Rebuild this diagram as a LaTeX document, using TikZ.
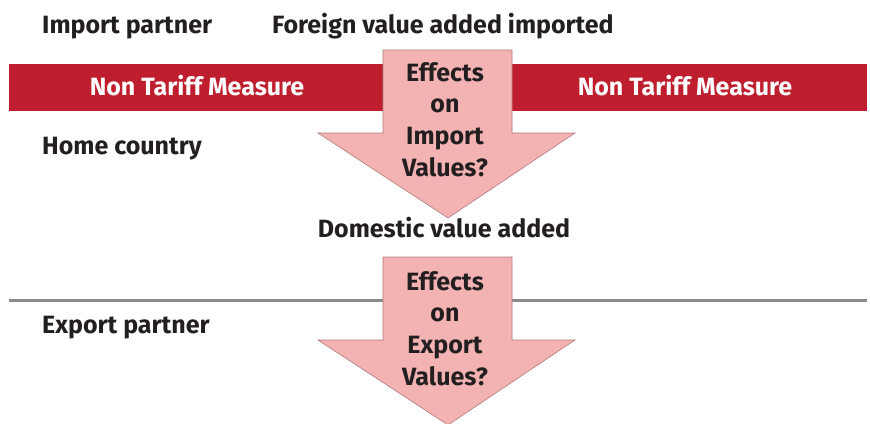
\documentclass[tikz,border=0pt]{standalone}
\usepackage{fontspec}
\setmainfont{Fira Sans}
\usepackage{tikz}
\usetikzlibrary{positioning}
\definecolor{barred}{HTML}{BE1E2D}
\definecolor{arrowpink}{HTML}{F4B3B3}
\definecolor{arrowedge}{HTML}{B07A7A}
\definecolor{inkdark}{HTML}{231F20}
\definecolor{rulegray}{HTML}{8C8C8C}
\tikzset{
    partylabel/.style = {anchor=base west, inner sep=0, text=inkdark, font=\bfseries\fontsize{25}{30}\selectfont},
    flowlabel/.style = {anchor=base, inner sep=0, text=inkdark, font=\bfseries\fontsize{25}{30}\selectfont},
    ntmlabel/.style = {anchor=base, inner sep=0, text=white, font=\bfseries\fontsize{25}{30}\selectfont},
    effecttext/.style = {anchor=north, inner sep=0, align=center, text=inkdark, font=\bfseries\fontsize{25}{31.8}\selectfont},
    effectarrow/.style = {fill=arrowpink, draw=arrowedge, line width=0.6pt},
    ntmbar/.style = {fill=barred, draw=none},
    partyrule/.style = {draw=rulegray, line width=3pt}
}

\begin{document}
\begin{tikzpicture}[x=1pt,y=-1pt]
\useasboundingbox (0,0) rectangle (870,423);

% bars and rules
\fill[ntmbar] (9,64) rectangle (867,111);
\draw[partyrule] (9,300) -- (867,300);

% arrows
\draw[effectarrow] (383,50) -- (512,50) -- (512,133) -- (575,133) -- (448,218)
    -- (318,133) -- (383,133) -- cycle;
\draw[effectarrow] (383,257) -- (512,257) -- (512,340) -- (575,340) -- (448,425)
    -- (318,340) -- (383,340) -- cycle;

% labels
\node[partylabel] at (42,33) (import) {Import partner};
\node[partylabel] at (272,33) (foreign) {Foreign value added imported};
\node[ntmlabel] at (197,95) (ntmleft) {Non Tariff Measure};
\node[ntmlabel] at (685,95) (ntmright) {Non Tariff Measure};
\node[partylabel] at (42,154) (home) {Home country};
\node[flowlabel] at (444,237) (domestic) {Domestic value added};
\node[partylabel] at (42,333) (export) {Export partner};

\node[effecttext] at (445,62) (importfx) {Effects\\on\\Import\\Values?};
\node[effecttext] at (445,271) (exportfx) {Effects\\on\\Export\\Values?};

\end{tikzpicture}
\end{document}
